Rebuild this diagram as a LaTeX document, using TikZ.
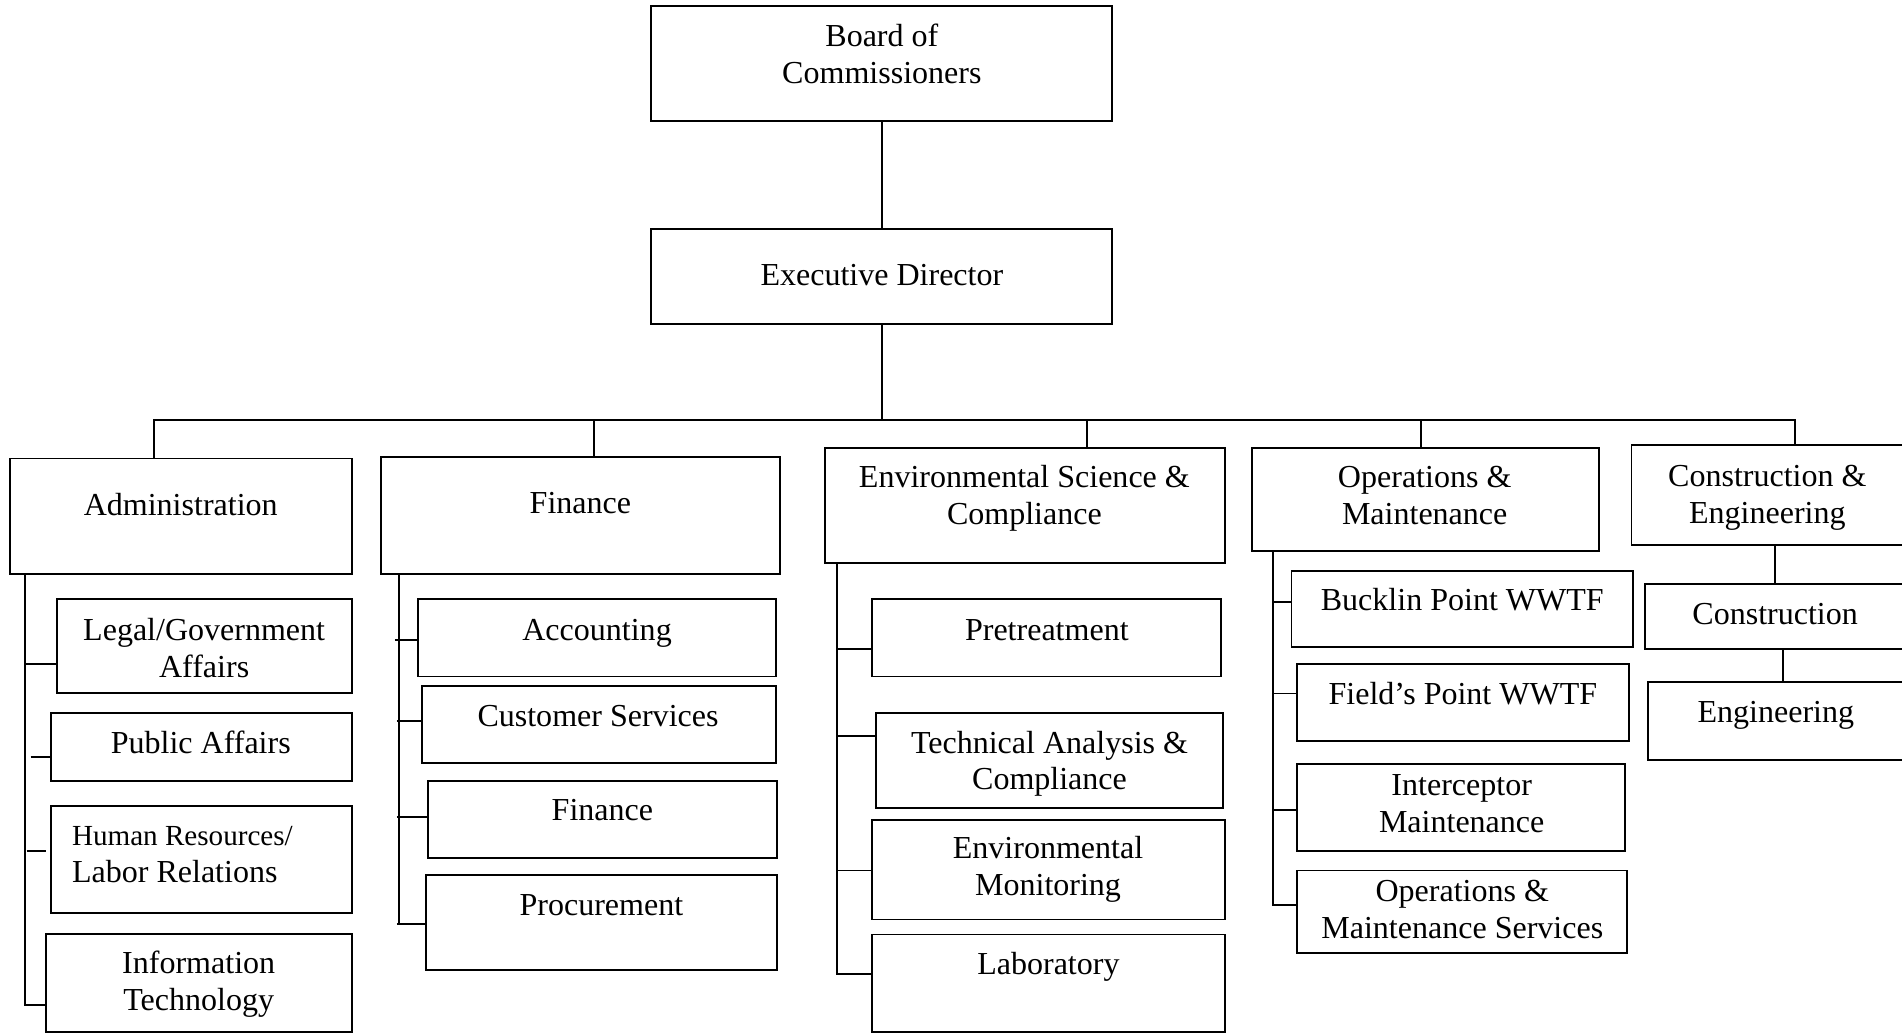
\documentclass[tikz,border=0pt]{standalone}
\usepackage{fontspec}
\setmainfont{Liberation Serif}
\tikzset{
  obox/.style={draw, line width=0.8pt, inner sep=0pt, outer sep=0pt},
  otext/.style={inner sep=0pt, align=center, font=\fontsize{13.2}{15.1}\selectfont},
  link/.style={line width=0.8pt},
}
\newcommand\orgbox[5]{\node[obox, minimum width={(#4-#2)*0.5pt}, minimum height={(#5-#3)*0.5pt}] (#1) at ({(#2+#4)/2},{(#3+#5)/2}) {};}
\begin{document}
\begin{tikzpicture}[x=0.5pt,y=-0.5pt]
\useasboundingbox (0,0) rectangle (1568,852);
\clip (0,0) rectangle (1568,852);
% top
\orgbox{board}{537}{5}{917}{100}
\orgbox{exec}{537}{189}{917}{267}
\node[otext] (board-t) at (727,47.5) {\strut Board of\\\strut Commissioners};
\node[otext] (exec-t) at (727,229) {\strut Executive Director};
% departments
\orgbox{admin}{8}{378}{290}{473}
\orgbox{fin}{314}{377}{643}{473}
\orgbox{env}{680}{369}{1010}{464}
\orgbox{ops}{1032}{369}{1318}{454}
\orgbox{ce}{1345}{367}{1580}{449}
\node[otext] (admin-t) at (149,419) {\strut Administration};
\node[otext] (fin-t) at (478.5,417) {\strut Finance};
\node[otext] (env-t) at (844.5,411) {\strut Environmental Science \&\\\strut Compliance};
\node[otext] (ops-t) at (1174.5,411) {\strut Operations \&\\\strut Maintenance};
\node[otext] (ce-t) at (1457,410.5) {\strut Construction \&\\\strut Engineering};
% administration units
\orgbox{legal}{47}{494}{290}{571}
\orgbox{public}{42}{588}{290}{643.5}
\orgbox{hr}{42}{664.6}{290}{752.6}
\orgbox{it}{37.7}{770}{290}{850.5}
\node[otext] (legal-t) at (168.3,537) {\strut Legal/Government\\\strut Affairs};
\node[otext] (public-t) at (165.5,615.5) {\strut Public Affairs};
\node[otext, align=left, anchor=west] (hr-t) at (59,706) {{\fontsize{12}{15.1}\selectfont\strut Human Resources/}\\\strut Labor Relations};
\node[otext] (it-t) at (163.8,812) {\strut Information\\\strut Technology};
% finance units
\orgbox{acc}{344.7}{494}{639.5}{557.7}
\orgbox{cs}{347.6}{565.6}{639.5}{629}
\orgbox{fintwo}{352.6}{643.5}{640.6}{707.5}
\orgbox{proc}{351.2}{721}{640.3}{800}
\node[otext] (acc-t) at (492.2,522) {\strut Accounting};
\node[otext] (cs-t) at (493,593) {\strut Customer Services};
\node[otext] (fintwo-t) at (496.6,670.7) {\strut Finance};
\node[otext] (proc-t) at (495.8,749) {\strut Procurement};
% environmental units
\orgbox{pre}{719}{494}{1006.3}{557.7}
\orgbox{tech}{722.2}{588}{1008}{666}
\orgbox{envmon}{719}{676}{1010}{758}
\orgbox{lab}{719}{770.4}{1010}{850.5}
\node[otext] (pre-t) at (863,522) {\strut Pretreatment};
\node[otext] (tech-t) at (865.2,630) {\strut Technical Analysis \&\\\strut Compliance};
\node[otext] (envmon-t) at (864,717) {\strut Environmental\\\strut Monitoring};
\node[otext] (lab-t) at (864.3,797.4) {\strut Laboratory};
% operations units
\orgbox{bucklin}{1064.7}{470.7}{1346}{533.4}
\orgbox{fields}{1069.3}{547.7}{1343}{610.8}
\orgbox{intercep}{1069.3}{630.2}{1340}{701.3}
\orgbox{oms}{1069.3}{717.6}{1341}{785.6}
\node[otext] (bucklin-t) at (1205.5,497.6) {\strut Bucklin Point WWTF};
\node[otext] (fields-t) at (1206,574.4) {\strut Field’s Point WWTF};
\node[otext] (intercep-t) at (1205,665.2) {\strut Interceptor\\\strut Maintenance};
\node[otext] (oms-t) at (1205.5,752.3) {\strut Operations \&\\\strut Maintenance Services};
% construction units
\orgbox{constr}{1356.3}{481.5}{1580}{534.7}
\orgbox{engin}{1358.5}{562}{1580}{626.6}
\node[otext] (constr-t) at (1463.4,508.7) {\strut Construction};
\node[otext] (engin-t) at (1464,589.5) {\strut Engineering};
% connectors: top
\coordinate (busy) at (0,346);
\draw[link] (board.south) -- (exec.north);
\draw[link] (exec.south) -- (exec.south |- busy);
\draw[link] (admin.north -| 126.7,0) -- (busy -| 126.7,0) -- (busy -| 1480,0) -- (ce.north -| 1480,0);
\draw[link] (fin.north -| 489.4,0) -- (busy -| 489.4,0);
\draw[link] (env.north -| 896,0) -- (busy -| 896,0);
\draw[link] (ops.north -| 1171.2,0) -- (busy -| 1171.2,0);
% administration
\coordinate (admx) at (20.6,0);
\draw[link] (admin.south -| admx) -- (admx |- 0,828.6) -- (it.west |- 0,828.6);
\draw[link] (admx |- 0,547) -- (legal.west |- 0,547);
\draw[link] (25.3,624) -- (public.west |- 0,624);
\draw[link] (22,701.7) -- ([xshift=-2.2pt]hr.west |- 0,701.7);
% finance
\coordinate (finx) at (329,0);
\draw[link] (fin.south -| finx) -- (finx |- 0,762);
\draw[link] (325.6,527.4) -- (acc.west |- 0,527.4);
\draw[link] (327.2,594) -- (cs.west |- 0,594);
\draw[link] (327.2,673.6) -- (fintwo.west |- 0,673.6);
\draw[link] (327.2,762) -- (proc.west |- 0,762);
% environmental
\coordinate (envx) at (690.3,0);
\draw[link] (env.south -| envx) -- (envx |- 0,803) -- (lab.west |- 0,803);
\draw[link] (envx |- 0,535) -- (pre.west |- 0,535);
\draw[link] (envx |- 0,607) -- (tech.west |- 0,607);
\draw[link] (envx |- 0,717.6) -- (envmon.west |- 0,717.6);
% operations
\coordinate (opsx) at (1049.5,0);
\draw[link] (ops.south -| opsx) -- (opsx |- 0,746.3) -- (oms.west |- 0,746.3);
\draw[link] (opsx |- 0,496.6) -- (bucklin.west |- 0,496.6);
\draw[link] (opsx |- 0,571.7) -- (fields.west |- 0,571.7);
\draw[link] (opsx |- 0,667.5) -- (intercep.west |- 0,667.5);
% construction
\draw[link] (ce.south -| 1463.5,0) -- (constr.north -| 1463.5,0);
\draw[link] (constr.south -| 1469.8,0) -- (engin.north -| 1469.8,0);
\end{tikzpicture}
\end{document}
